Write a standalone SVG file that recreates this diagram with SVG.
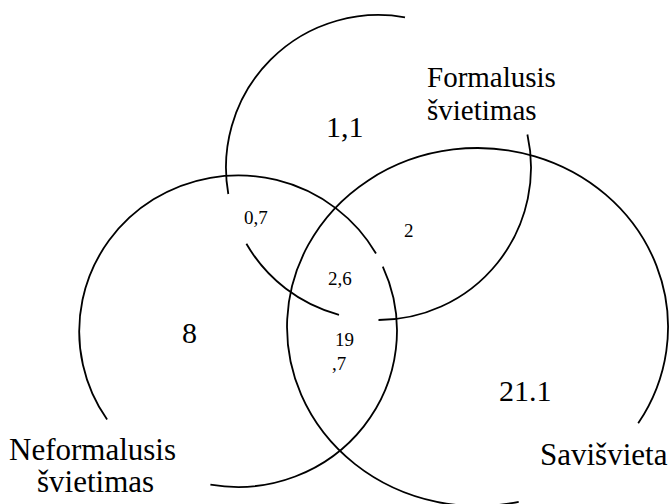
<svg xmlns="http://www.w3.org/2000/svg" width="672" height="504" viewBox="0 0 672 504">
<style>
.arc{fill:none;stroke:#000;stroke-width:1.8}
text{font-family:'Liberation Serif','Times New Roman','DejaVu Serif',serif;fill:#000}
.big{font-size:30px}
.sm{font-size:19px}
</style>
<rect width="672" height="504" fill="#fff"/>
<g id="formalusis" font-family="Liberation Serif, serif">
<path class="arc" d="M405.0 17.3 A152.5 152.5 0 0 0 228.3 194.0"/>
<path class="arc" d="M246.4 243.8 A152.5 152.5 0 0 0 339.0 314.8"/>
<path class="arc" d="M378.5 320 A152.5 152.5 0 0 0 527.4 134.5"/>
<text font-family="Liberation Serif, serif" font-size="29" x="427" y="87">Formalusis</text>
<text font-family="Liberation Serif, serif" font-size="29" x="427" y="120">švietimas</text>
<text font-family="Liberation Serif, serif" class="big" x="326" y="137">1,1</text>
</g>
<g id="neformalusis" font-family="Liberation Serif, serif">
<path class="arc" d="M382.8 266.6 A159 156 0 0 1 210.4 484.6"/>
<path class="arc" d="M107.1 419.6 A159 156 0 1 1 376.0 253.5"/>
<text font-family="Liberation Serif, serif" font-size="31" x="9" y="460">Neformalusis</text>
<text font-family="Liberation Serif, serif" font-size="31" x="37" y="492">švietimas</text>
<text font-family="Liberation Serif, serif" class="big" x="182" y="343">8</text>
</g>
<g id="saviszvieta" font-family="Liberation Serif, serif">
<path class="arc" d="M518.7 501.8 A190.5 179 0 1 1 638.2 423.2"/>
<text font-family="Liberation Serif, serif" font-size="31" x="540" y="465">Savišvieta</text>
<text font-family="Liberation Serif, serif" class="big" x="499" y="401">21.1</text>
</g>
<g id="overlaps" font-family="Liberation Serif, serif">
<text font-family="Liberation Serif, serif" class="sm" x="244" y="224">0,7</text>
<text font-family="Liberation Serif, serif" class="sm" x="404" y="237">2</text>
<text font-family="Liberation Serif, serif" class="sm" x="328" y="285">2,6</text>
<text font-family="Liberation Serif, serif" class="sm" x="335" y="346">19</text>
<text font-family="Liberation Serif, serif" class="sm" x="332" y="370">,7</text>
</g>
</svg>
